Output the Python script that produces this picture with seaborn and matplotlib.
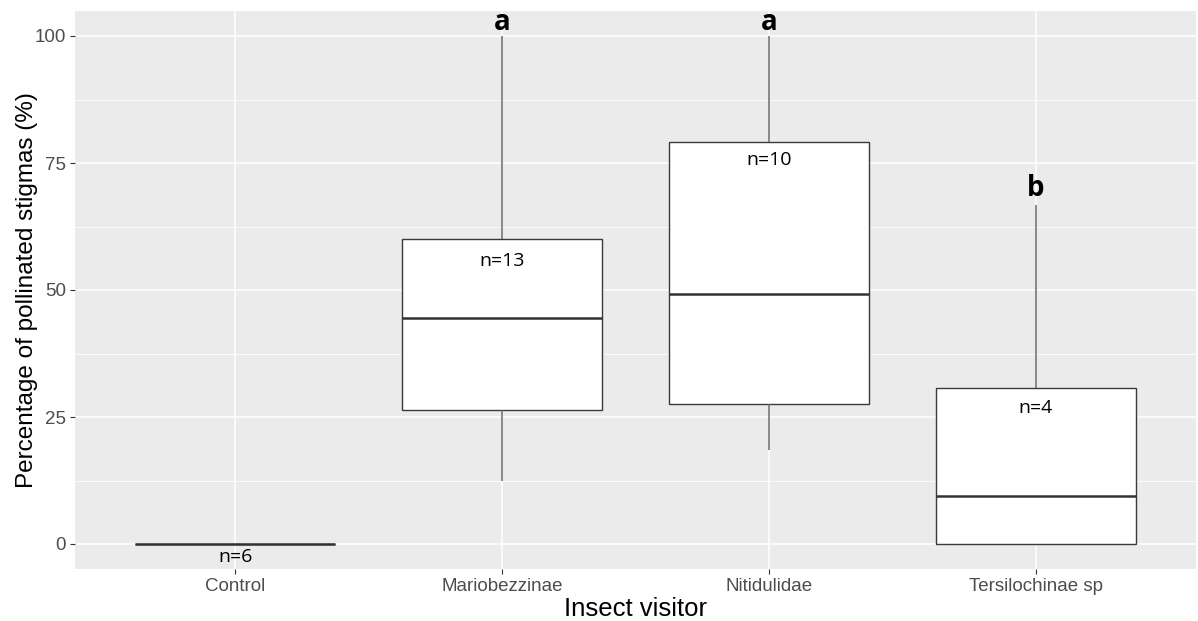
import matplotlib
matplotlib.use("Agg")
import matplotlib.pyplot as plt
import numpy as np
import pandas as pd
import seaborn as sns
from matplotlib.ticker import MultipleLocator

# Percentage of pollinated stigmas per flower, grouped by insect visitor
visitors = ["Control", "Mariobezzinae", "Nitidulidae", "Tersilochinae sp"]
control = [0, 0, 0, 0, 0, 0]
mariobezzinae = [12.5, 20, 25, 26.3, 33.3, 40, 44.4, 50, 57.1, 60, 66.7, 80, 100]
nitidulidae = [18.6, 22.2, 25, 35, 42.9, 55.7, 70, 82.3, 90, 100]
tersilochinae = [0, 0, 18.75, 66.67]

# Annotations: sample sizes and significance groups
sample_labels = ["n=6", "n=13", "n=10", "n=4"]
sample_label_y = [-2.6, 55.8, 75.5, 26.7]
group_letters = ["", "a", "a", "b"]
group_letter_y = [0, 102.7, 102.7, 70]

groups = [control, mariobezzinae, nitidulidae, tersilochinae]
df = pd.DataFrame({
    "visitor": np.repeat(visitors, [len(g) for g in groups]),
    "pct": np.concatenate(groups),
})

sns.set_theme(style="darkgrid", rc={
    "axes.facecolor": "#EBEBEB",
    "grid.color": "white",
    "figure.facecolor": "white",
})
plt.rcParams["font.family"] = ["Liberation Sans", "DejaVu Sans"]

fig = plt.figure(figsize=(11.98, 6.21), dpi=100)
ax = fig.add_axes([75 / 1198, 1 - 569.4 / 621, (1196 - 75) / 1198, (569.4 - 10.6) / 621])

sns.boxplot(
    data=df, x="visitor", y="pct", order=visitors, ax=ax,
    width=0.75, color="white", saturation=1, linecolor="#3A3A3A",
    linewidth=1.0, showcaps=False, fliersize=0, whis=1.5,
    medianprops=dict(linewidth=1.8, color="#333333"),
    whiskerprops=dict(color="#6A6A6A", linewidth=1.1),
)

ax.set_xlim(-0.6, 3.6)
ax.set_ylim(-5, 105)
ax.yaxis.set_major_locator(MultipleLocator(25))
ax.yaxis.set_minor_locator(MultipleLocator(12.5))
ax.set_axisbelow(True)
ax.grid(which="major", color="white", linewidth=1.1)
ax.grid(which="minor", axis="y", color="white", linewidth=0.55)
for s in ax.spines.values():
    s.set_visible(False)

ax.tick_params(axis="both", which="major", length=3.5, width=0.8, color="#333333",
               labelcolor="#4D4D4D", labelsize=13.5, pad=3, bottom=True, left=True)
ax.tick_params(axis="both", which="minor", length=0)

ax.set_xlabel("Insect visitor", fontsize=18.5, color="black", labelpad=1)
ax.set_ylabel("Percentage of pollinated stigmas (%)", fontsize=17.5, color="black")
ax.yaxis.set_label_coords(-0.033, 0.5)

for i, (lab, y) in enumerate(zip(sample_labels, sample_label_y)):
    ax.text(i, y, lab, ha="center", va="center", fontsize=14,
            family=["Open Sans", "DejaVu Sans"], color="black")
for i, (lab, y) in enumerate(zip(group_letters, group_letter_y)):
    if lab:
        ax.text(i, y, lab, ha="center", va="center", fontsize=20, fontweight="bold",
                family=["Open Sans", "DejaVu Sans"], color="black")

fig.savefig("out.png", dpi=100)
